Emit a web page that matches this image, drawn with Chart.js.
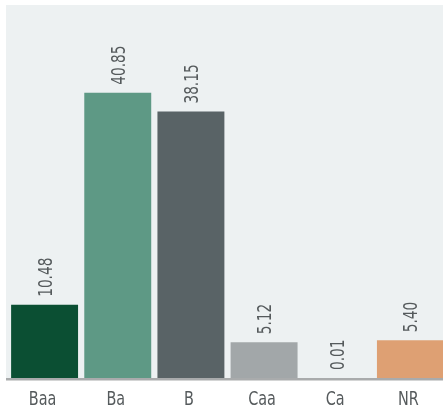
<!DOCTYPE html>
<html>
<head>
<meta charset="utf-8">
<script src="https://cdn.jsdelivr.net/npm/chart.js@4/dist/chart.umd.min.js"></script>
<style>
  html, body { margin: 0; padding: 0; background: #fff; }
  /* the last bar runs a few pixels past the right edge */
  #wrap { width: 443px; height: 408px; overflow: hidden; }
</style>
</head>
<body>
<div id="wrap"><canvas id="chart" width="447" height="408"></canvas></div>
<script>
const ratings = ["Baa", "Ba", "B", "Caa", "Ca", "NR"];
const shares = [10.48, 40.85, 38.15, 5.12, 0.01, 5.40];
const barColors = ["#0b4f33", "#5e9985", "#596366", "#a2a7a9", "#9aa0a2", "#dea073"];

const FONT = "'DejaVu Sans', sans-serif";
const SQUEEZE = 0.72; // narrow the glyphs to a condensed look
const TEXT = "#555a5c";

// grey panel behind the bars, starting a little left of the first bar
const panel = {
  id: "panel",
  beforeDraw(chart) {
    const { ctx, chartArea: a } = chart;
    ctx.save();
    ctx.fillStyle = "#edf1f2";
    ctx.fillRect(6, a.top, chart.width - 6, a.bottom - a.top);
    ctx.restore();
  },
};

// axis line, category names and vertical value labels
const labels = {
  id: "labels",
  afterDatasetsDraw(chart) {
    const { ctx, chartArea: a } = chart;
    const meta = chart.getDatasetMeta(0);
    ctx.save();
    ctx.fillStyle = "#a9abac";
    ctx.fillRect(6, a.bottom, chart.width - 6, 2.5);

    ctx.fillStyle = TEXT;
    ctx.font = "20px " + FONT;
    ctx.textAlign = "center";
    ctx.textBaseline = "alphabetic";
    meta.data.forEach((bar, i) => {
      ctx.save();
      ctx.translate(bar.x - 2, 405);
      ctx.scale(SQUEEZE, 1);
      ctx.fillText(ratings[i], 0, 0);
      ctx.restore();
    });

    ctx.font = "19px " + FONT;
    ctx.textAlign = "left";
    ctx.textBaseline = "middle";
    meta.data.forEach((bar, i) => {
      ctx.save();
      ctx.translate(bar.x + 2, bar.y - 8);
      ctx.rotate(-Math.PI / 2);
      ctx.scale(SQUEEZE, 1);
      ctx.fillText(shares[i].toFixed(2), 0, 0);
      ctx.restore();
    });
    ctx.restore();
  },
};

new Chart(document.getElementById("chart"), {
  type: "bar",
  data: {
    labels: ratings,
    datasets: [
      {
        data: shares,
        backgroundColor: barColors,
        borderWidth: 0,
        barPercentage: 0.915,
        categoryPercentage: 1,
      },
    ],
  },
  options: {
    responsive: false,
    animation: false,
    layout: { padding: { left: 8, top: 5, right: 0, bottom: 0 } },
    plugins: {
      legend: { display: false },
      tooltip: { enabled: false },
    },
    scales: {
      x: {
        grid: { display: false, drawTicks: false },
        border: { display: false },
        ticks: { display: false },
        afterFit(scale) {
          scale.height = 30;
        },
      },
      y: {
        display: false,
        min: 0,
        max: 53.41,
      },
    },
  },
  plugins: [panel, labels],
});
</script>
</body>
</html>
